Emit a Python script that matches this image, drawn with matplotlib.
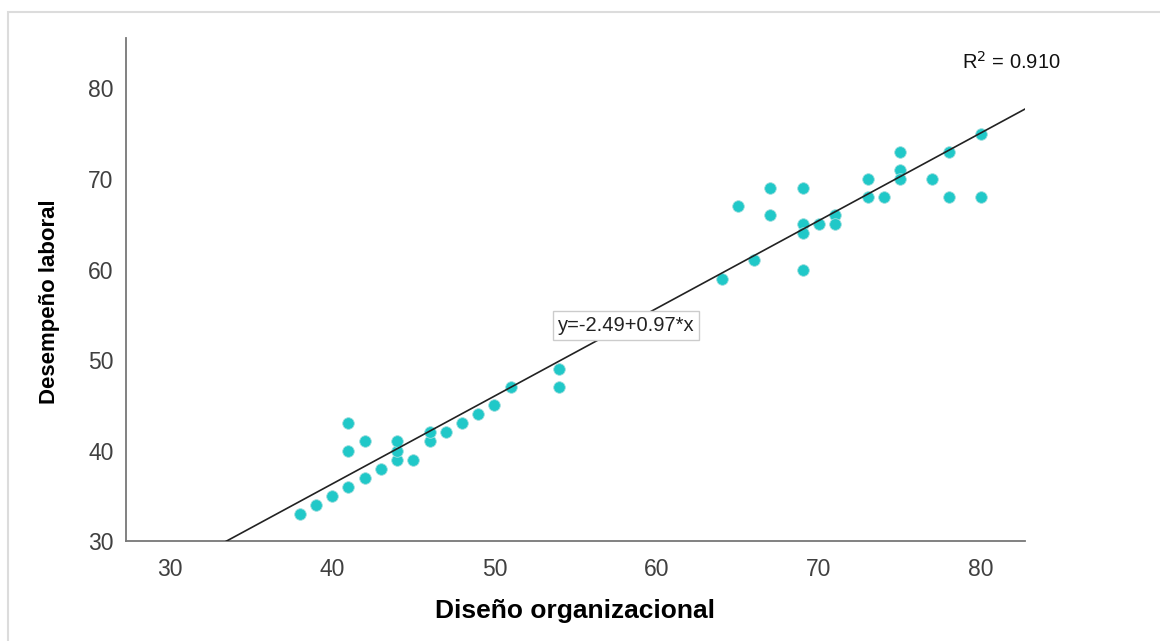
import matplotlib.pyplot as plt
from matplotlib.patches import Rectangle

# datos
diseno = [38, 39, 40, 41, 41, 41, 42, 42, 43, 44, 44, 44, 45, 46, 46, 47, 48, 49, 50, 51,
          54, 54,
          64, 65, 66, 67, 67, 69, 69, 69, 69, 70, 71, 71, 73, 73, 74, 75, 75, 75, 77, 78, 78, 80, 80]
desempeno = [33, 34, 35, 36, 40, 43, 37, 41, 38, 39, 40, 41, 39, 41, 42, 42, 43, 44, 45, 47,
             49, 47,
             59, 67, 61, 69, 66, 69, 65, 64, 60, 65, 66, 65, 70, 68, 68, 73, 71, 70, 70, 73, 68, 68, 75]
intercepto = -2.49
pendiente = 0.97
r2 = 0.910

plt.rcParams['font.family'] = ['Liberation Sans', 'DejaVu Sans']

fig = plt.figure(figsize=(11.6, 6.41), dpi=100)
ax = fig.add_axes([0.1086, 0.156, 0.775, 0.785])

# marco gris claro de la imagen
fig.patches.append(Rectangle((8 / 1160, -0.1), 1.2, 1.1 - 12 / 641, transform=fig.transFigure,
                             fill=False, edgecolor='#dcdcdc', linewidth=1.5))

ax.scatter(diseno, desempeno, s=70, color='#20c8c8', edgecolors='#9fdede', linewidths=0.6, zorder=2)

xs = [27.29, 82.7]
ax.plot(xs, [intercepto + pendiente * x for x in xs], color='#222222', linewidth=1.2, zorder=3)

ax.set_xlim(27.29, 82.7)
ax.set_ylim(30, 85.6)
ax.set_xticks([30, 40, 50, 60, 70, 80])
ax.set_yticks([30, 40, 50, 60, 70, 80])
ax.tick_params(length=0, labelsize=16.5, labelcolor='#404040')
ax.tick_params(axis='x', pad=12)
ax.tick_params(axis='y', pad=9)

for s in ['top', 'right']:
    ax.spines[s].set_visible(False)
for s in ['left', 'bottom']:
    ax.spines[s].set_color('#777777')
    ax.spines[s].set_linewidth(1.3)

ax.set_xlabel('Diseño organizacional', fontsize=19, fontweight='bold', labelpad=13)
ax.set_ylabel('Desempeño laboral', fontsize=16, fontweight='bold')
ax.yaxis.set_label_coords(-0.073, 0.475)

ax.text(53.9, 53.8, 'y=-2.49+0.97*x', fontsize=14.5, va='center', ha='left', color='#222222',
        bbox=dict(boxstyle='square,pad=0.25', facecolor='white', edgecolor='#cccccc', linewidth=1),
        zorder=4)

fig.text(962 / 1160, 1 - 62 / 641, 'R$^2$ = %.3f' % r2, fontsize=14.5, va='center', ha='left',
         color='#111111')

fig.savefig('out.png', dpi=100, facecolor='white')
